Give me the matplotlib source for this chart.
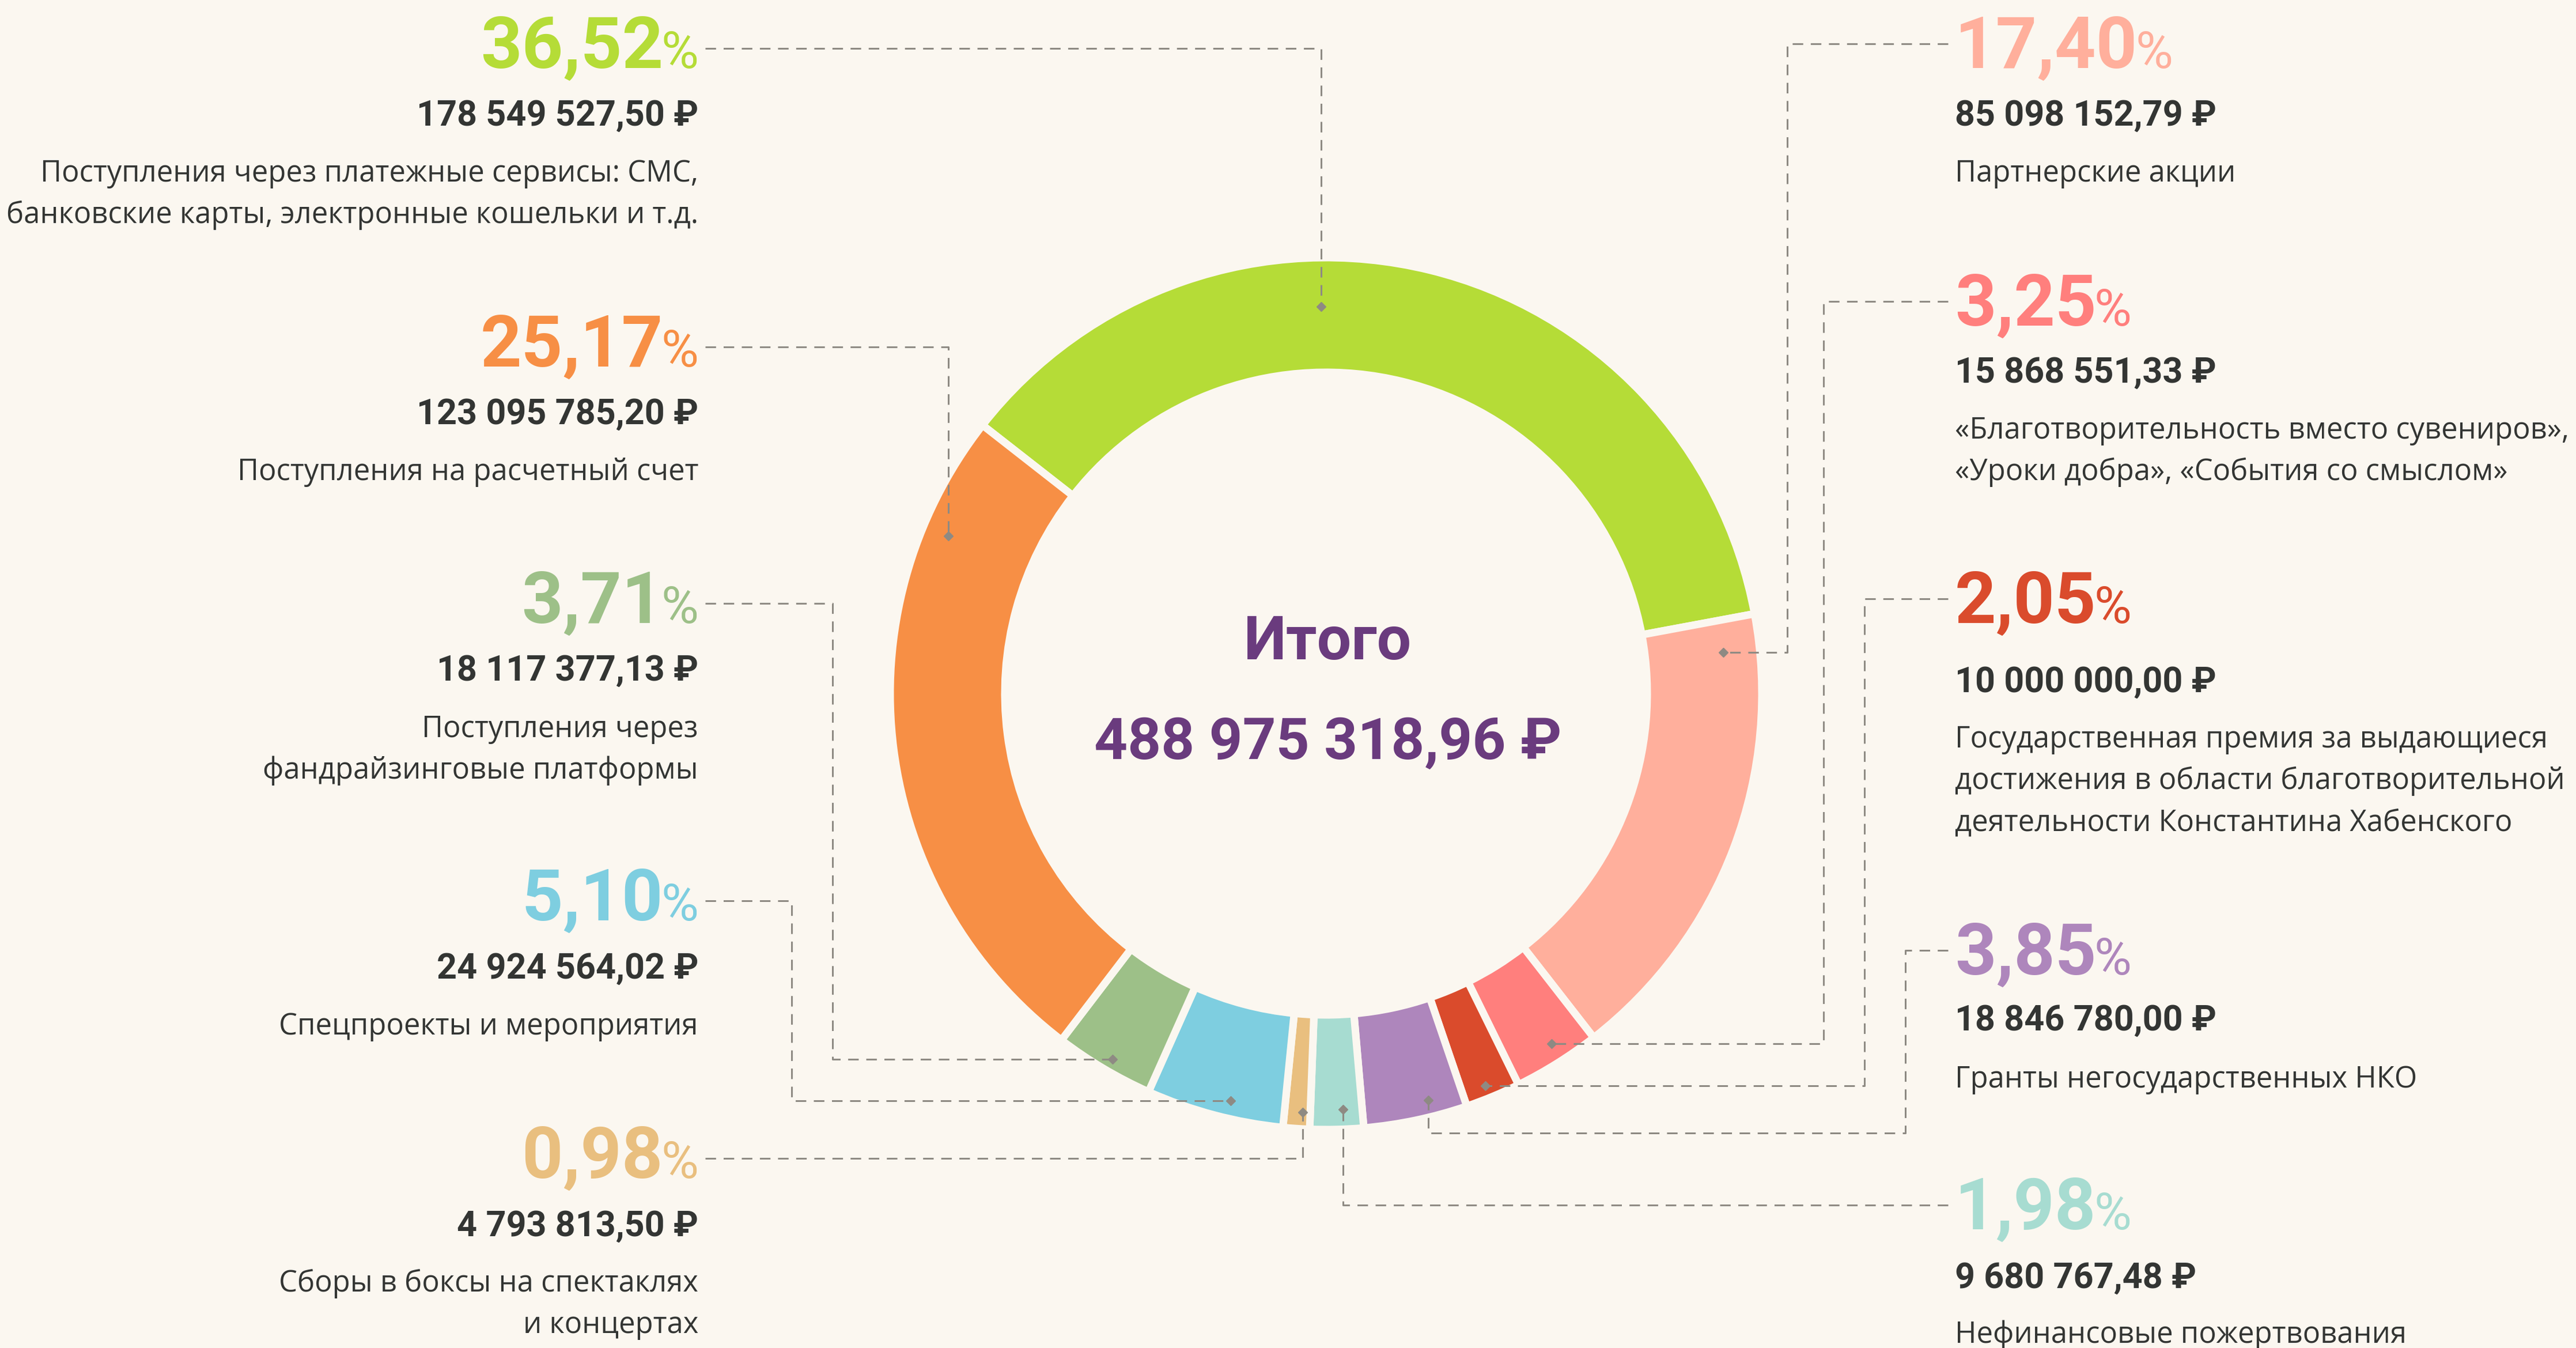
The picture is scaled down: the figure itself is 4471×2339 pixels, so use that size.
import matplotlib
matplotlib.use('Agg')
import matplotlib.pyplot as plt
import numpy as np

W, H = 4471, 2339

# данные (по часовой стрелке, начиная с зеленого сектора)
names = ['Платежные сервисы', 'Партнерские акции', 'Спецпроекты фонда', 'Госпремия',
         'Гранты НКО', 'Нефинансовые', 'Боксы', 'Спецпроекты', 'Фандрайзинг', 'Расчетный счет']
amounts = [178549527.50, 85098152.79, 15868551.33, 10000000.00, 18846780.00,
           9680767.48, 4793813.50, 24924564.02, 18117377.13, 123095785.20]
percents = ['36,52', '17,40', '3,25', '2,05', '3,85', '1,98', '0,98', '5,10', '3,71', '25,17']
descs = [
    ['Поступления через платежные сервисы: СМС,', 'банковские карты, электронные кошельки и т.д.'],
    ['Партнерские акции'],
    ['«Благотворительность вместо сувениров»,', '«Уроки добра», «События со смыслом»'],
    ['Государственная премия за выдающиеся', 'достижения в области благотворительной',
     'деятельности Константина Хабенского'],
    ['Гранты негосударственных НКО'],
    ['Нефинансовые пожертвования'],
    ['Сборы в боксы на спектаклях', 'и концертах'],
    ['Спецпроекты и мероприятия'],
    ['Поступления через', 'фандрайзинговые платформы'],
    ['Поступления на расчетный счет'],
]
colors = ['#B5DC37', '#FFAF9C', '#FF7F7D', '#DA4B2C', '#AE86BC',
          '#A7DCD1', '#E9BF7F', '#7ECEE0', '#9DC088', '#F78F45']
total_title = 'Итого'
total_label = '488 975 318,96 ₽'

# раскладка подписей (пиксели, y сверху)
side = ['L', 'R', 'R', 'R', 'R', 'R', 'L', 'L', 'L', 'L']
pct_y = [118, 118, 565, 1081, 1691, 2133, 2044, 1597, 1081, 636]
amt_y = [218, 218, 664, 1201, 1788, 2235, 2145, 1698, 1181, 736]
desc_y = [315, 315, 761, 1297, 1887, 2330, 2241, 1795, 1279, 833]
elbow_x = [None, 3102, 3165, 3236, 3307, None, None, 1374, 1445, None]
elbow_y2 = [None, None, None, None, 1966, None, None, None, None, None]
anchor_f = [0.61, 0.926, 0.565, 0.446, 0.66, 0.63, 0.71, 0.59, 0.53, 0.169]
anchor_r = [0.895, 0.924, 0.964, 0.98, 0.97, 0.963, 0.97, 0.967, 0.98, 0.947]

bg = '#FBF7F0'
dark = '#333533'
grey = '#8E8A83'
purple = '#6A3B7E'
num_font = ['Roboto', 'DejaVu Sans']
txt_font = ['Open Sans', 'DejaVu Sans']

cx, cy = 2301.5, 1203.5
R = 750.0
ring = 186.0
gap = 13.0
x_left_col = 1212
x_right_col = 3393
line_h = 72

fig = plt.figure(figsize=(W / 100, H / 100), dpi=100, facecolor=bg)
ax = fig.add_axes([0, 0, 1, 1])
ax.set_facecolor(bg)

wedges, _ = ax.pie(amounts, colors=colors, startangle=142, counterclock=False,
                   radius=R + gap / 2, center=(cx, H - cy), frame=True,
                   wedgeprops=dict(width=ring + gap, edgecolor=bg, linewidth=gap * 0.72))
ax.set_xlim(0, W)
ax.set_ylim(0, H)
ax.set_aspect('equal')
ax.axis('off')

ax.text(2305, H - 1144, total_title, ha='center', va='baseline', fontsize=76,
        fontweight='bold', color=purple, family=num_font)
ax.text(2305, H - 1317, total_label, ha='center', va='baseline', fontsize=73,
        fontweight='bold', color=purple, family=num_font)

rend = fig.canvas.get_renderer()

for i, w in enumerate(wedges):
    y0 = H - pct_y[i]
    if side[i] == 'L':
        s = ax.text(x_left_col, y0, '%', ha='right', va='baseline', fontsize=64,
                    fontweight='normal', color=colors[i], family=num_font)
        sw = s.get_window_extent(rend).width
        ax.text(x_left_col - sw + 4, y0, percents[i], ha='right', va='baseline', fontsize=90,
                fontweight='bold', color=colors[i], family=num_font)
        xa, ha = x_left_col, 'right'
        lx = x_left_col + 12
        ly = pct_y[i] - 34
    else:
        t = ax.text(x_right_col, y0, percents[i], ha='left', va='baseline', fontsize=90,
                    fontweight='bold', color=colors[i], family=num_font)
        tw = t.get_window_extent(rend).width
        ax.text(x_right_col + tw - 4, y0, '%', ha='left', va='baseline', fontsize=64,
                fontweight='normal', color=colors[i], family=num_font)
        xa, ha = x_right_col, 'left'
        lx = x_right_col - 12
        ly = pct_y[i] - 42

    amt = f'{amounts[i]:,.2f}'.replace(',', ' ').replace('.', ',') + ' ₽'
    ax.text(xa, H - amt_y[i], amt, ha=ha, va='baseline', fontsize=44,
            fontweight='bold', color=dark, family=num_font)
    for k, line in enumerate(descs[i]):
        ax.text(xa, H - (desc_y[i] + k * line_h), line, ha=ha, va='baseline',
                fontsize=36.5, color=dark, family=txt_font)

    # точка-якорь внутри сектора
    a = np.deg2rad(w.theta1 + anchor_f[i] * (w.theta2 - w.theta1))
    dx = cx + anchor_r[i] * R * np.cos(a)
    dy = (H - cy) + anchor_r[i] * R * np.sin(a)

    xs = [lx]
    ys = [H - ly]
    if elbow_x[i] is None:
        xs += [dx, dx]
        ys += [H - ly, dy]
    elif elbow_y2[i] is None:
        xs += [elbow_x[i], elbow_x[i], dx]
        ys += [H - ly, dy, dy]
    else:
        xs += [elbow_x[i], elbow_x[i], dx, dx]
        ys += [H - ly, H - elbow_y2[i], H - elbow_y2[i], dy]
    ax.plot(xs, ys, color=grey, lw=2.2, dashes=(6, 4.3), zorder=5)
    ax.plot([dx], [dy], marker='D', ms=8, color=grey, zorder=6)

fig.savefig('out.png', dpi=100, facecolor=bg)
